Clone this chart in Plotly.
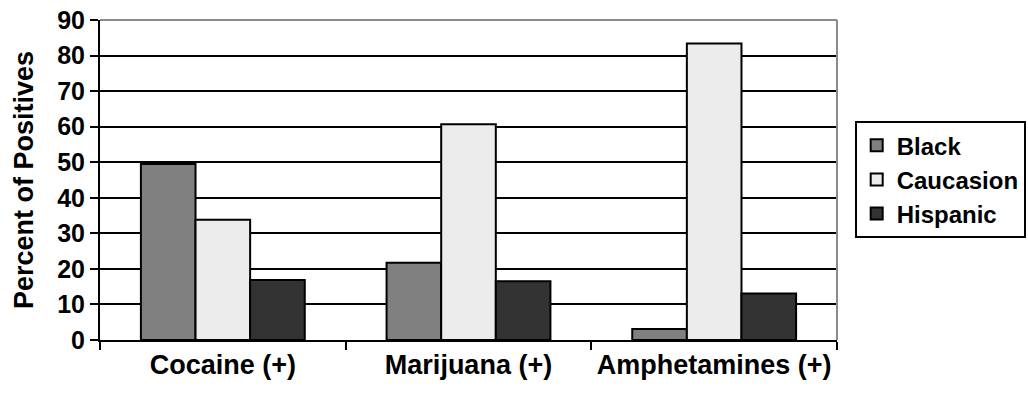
import plotly.graph_objects as go

categories = ["Cocaine (+)", "Marijuana (+)", "Amphetamines (+)"]
black = [49.5, 21.7, 3.1]
caucasion = [33.8, 60.7, 83.4]
hispanic = [16.9, 16.5, 13.1]
y_ticks = [0, 10, 20, 30, 40, 50, 60, 70, 80, 90]

FONT = "Liberation Sans, Arial, sans-serif"

fig = go.Figure()
series = [
    ("Black", black, "#808080"),
    ("Caucasion", caucasion, "#ececec"),
    ("Hispanic", hispanic, "#333333"),
]
for name, vals, color in series:
    fig.add_trace(go.Bar(
        name=name, x=categories, y=vals,
        marker=dict(color=color, line=dict(color="black", width=2)),
    ))

fig.update_layout(
    width=1028, height=397,
    margin=dict(l=100, r=191, t=20, b=57, autoexpand=False),
    paper_bgcolor="white", plot_bgcolor="white",
    barmode="group", bargap=0.333, bargroupgap=0,
    font=dict(family=FONT, color="black"),
    legend=dict(
        x=1.024, y=0.684, xanchor="left", yanchor="top",
        bordercolor="black", borderwidth=2,
        font=dict(family=FONT, size=24, color="black", weight="bold"),
        traceorder="normal",
    ),
    showlegend=True,
)

fig.update_xaxes(
    showline=True, linecolor="black", linewidth=2,
    ticks="outside", ticklen=8, tickwidth=2, tickcolor="black",
    tickson="boundaries", tickangle=0, automargin=False,
    tickfont=dict(family=FONT, size=27, color="black", weight="bold"),
    showgrid=False,
)
fig.update_yaxes(
    range=[0, 90], tickvals=y_ticks, automargin=False,
    showline=True, linecolor="black", linewidth=2,
    ticks="outside", ticklen=8, tickwidth=2, tickcolor="black",
    tickfont=dict(family=FONT, size=25, color="black", weight="bold"),
    showgrid=True, gridcolor="black", gridwidth=2,
    zeroline=False,
    title=dict(text="Percent of Positives",
               font=dict(family=FONT, size=27, color="black", weight="bold"),
               standoff=16),
)

# gray plot-area border along the top and right edges
fig.add_shape(type="line", xref="x domain", yref="y domain",
              x0=0, x1=1, y0=1, y1=1, line=dict(color="#8a8a8a", width=2))
fig.add_shape(type="line", xref="x domain", yref="y domain",
              x0=1, x1=1, y0=0, y1=1, line=dict(color="#8a8a8a", width=2))

fig.write_html("out.html")
